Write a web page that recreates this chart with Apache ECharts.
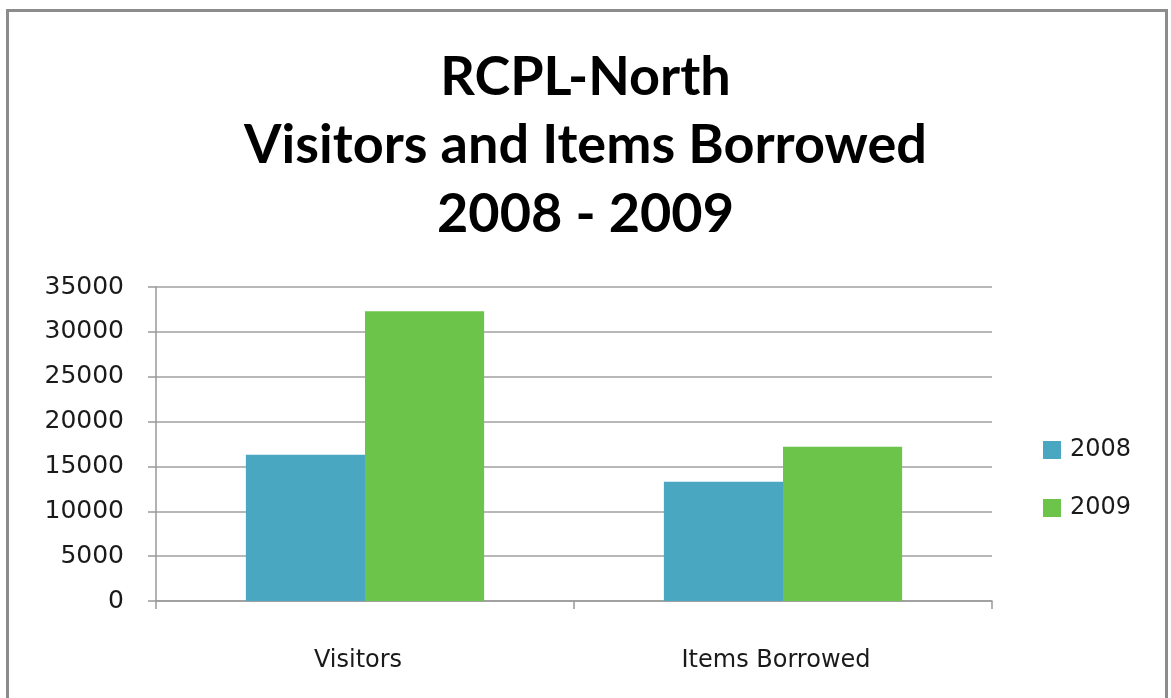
<!DOCTYPE html>
<html><head><meta charset="utf-8">
<script src="https://cdn.jsdelivr.net/npm/echarts@6/dist/echarts.min.js"></script>
<style>html,body{margin:0;padding:0;background:#fff}#c{width:1171px;height:698px}</style>
</head><body><div id="c"></div>
<script>
const categories = ['Visitors', 'Items Borrowed'];
const seriesNames = ['2008', '2009'];
const values2008 = [16300, 13300];
const values2009 = [32300, 17200];
const titleLines = ['RCPL-North', 'Visitors and Items Borrowed', '2008 - 2009'];

const chart = echarts.init(document.getElementById('c'));
const axisFont = 'DejaVu Sans';
chart.setOption({
  backgroundColor: '#ffffff',
  animation: false,
  graphic: [{
    type: 'rect', silent: true,
    shape: { x: 7.5, y: 10.5, width: 1159, height: 720 },
    style: { fill: 'none', stroke: '#8c8c8c', lineWidth: 3 }
  }],
  title: {
    text: titleLines.join('\n'),
    left: 'center', top: 38,
    textStyle: { fontFamily: 'Lato', fontWeight: 'bold', fontSize: 54, lineHeight: 68.5, color: '#000' }
  },
  legend: {
    orient: 'vertical', left: 1043, top: 438, padding: 0,
    itemWidth: 18, itemHeight: 18, itemGap: 34,
    icon: 'rect',
    textStyle: { fontFamily: axisFont, fontSize: 24, color: '#1a1a1a', padding: [0, 0, 0, 4] },
    data: seriesNames
  },
  grid: { left: 156, right: 179, top: 287, bottom: 97 },
  xAxis: {
    type: 'category', data: categories,
    axisLine: { lineStyle: { color: '#999', width: 1.5 } },
    axisTick: { show: true, length: 8, lineStyle: { color: '#999', width: 1.5 } },
    axisLabel: { margin: 48, fontFamily: axisFont, fontSize: 24, color: '#1a1a1a', padding: [0, 14, 0, 0] }
  },
  yAxis: {
    type: 'value', min: 0, max: 35000, interval: 5000,
    axisLine: { show: true, lineStyle: { color: '#999', width: 1.5 } },
    axisTick: { show: true, length: 8, lineStyle: { color: '#999', width: 1.5 } },
    splitLine: { lineStyle: { color: '#a0a0a0', width: 1.5 } },
    axisLabel: { margin: 32, fontFamily: axisFont, fontSize: 25, color: '#1a1a1a', formatter: v => String(v) }
  },
  series: [
    { name: seriesNames[0], type: 'bar', data: values2008, barGap: '0%', barCategoryGap: '43%',
      itemStyle: { color: '#4aa7c2' } },
    { name: seriesNames[1], type: 'bar', data: values2009, barGap: '0%', barCategoryGap: '43%',
      itemStyle: { color: '#6cc44b' } }
  ]
});
</script></body></html>
